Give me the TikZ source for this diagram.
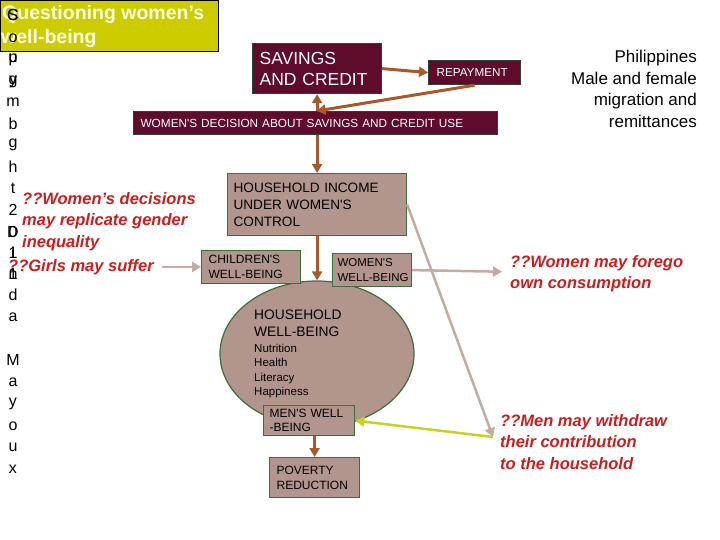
\documentclass[tikz,border=0pt]{standalone}
\usepackage{fontspec}
\setmainfont{Liberation Sans}
\usetikzlibrary{arrows.meta,shapes.geometric,calc}
\definecolor{maroon}{HTML}{5E0B2C}
\definecolor{mbord}{HTML}{2F3F2F}
\definecolor{taupe}{HTML}{B2958C}
\definecolor{gbord}{HTML}{3C6E3C}
\definecolor{brownarr}{HTML}{A8582A}
\definecolor{tarr}{HTML}{C4AAA0}
\definecolor{yel}{HTML}{C8D21E}
\definecolor{redc}{HTML}{C81E1E}
\definecolor{titlefill}{HTML}{CCCC00}
\definecolor{titletext}{HTML}{FFFFE6}
\newcommand\fsz[2]{\fontsize{#1}{#2}\selectfont}
\begin{document}
\begin{tikzpicture}[x=1pt,y=-1pt,
  mbox/.style={draw=mbord, line width=1.2pt, fill=maroon, text=white, anchor=north west, align=left, inner ysep=0pt},
  tbox/.style={draw=gbord, line width=1.2pt, fill=taupe, text=black, anchor=north west, align=left, inner ysep=0pt},
  barrow/.style={draw=brownarr, line width=3pt, -{Triangle[length=9pt,width=10pt]}},
  tarrow/.style={draw=tarr, line width=2.5pt, -{Triangle[length=9pt,width=10pt]}},
  yarrow/.style={draw=yel, line width=2.5pt, -{Triangle[length=9pt,width=10pt]}},
  redtxt/.style={text=redc, font=\fsz{16.5}{21.7}\bfseries\itshape, align=left, anchor=north west, inner sep=0pt},
  letter/.style={font=\fsz{16}{18}, text=black, inner sep=0pt, anchor=center}
]
\useasboundingbox (0,0) rectangle (720,540);

% title
\node[draw=black, line width=0.8pt, fill=titlefill, anchor=north west, minimum width=218, minimum height=51, inner sep=0pt] (title) at (0,0) {};
\node[text=titletext, font=\fsz{19.5}{24.5}\bfseries, align=left, anchor=north west, inner sep=0pt] (titletxt) at (2,5) {Questioning women’s\\\hspace{-1pt}well-being};

% maroon boxes
\node[mbox, minimum width=129, minimum height=50, text width=115, inner xsep=7pt, font=\fsz{17.5}{21}] (sav) at (252,43) {SAVINGS\\AND CREDIT};
\node[mbox, minimum width=92, minimum height=24, text width=76, inner xsep=8pt, font=\fsz{11.7}{14}] (rep) at (428,60) {REPAYMENT};
\node[mbox, minimum width=364, minimum height=23, text width=350, inner xsep=7pt, font=\fsz{11.8}{14}] (wdec) at (133,111) {WOMEN\textquotesingle S DECISION ABOUT SAVINGS AND CREDIT USE};

% taupe boxes
\node[tbox, minimum width=179, minimum height=62, text width=167, inner xsep=6pt, font=\fsz{13.6}{17}] (hinc) at (227,173) {HOUSEHOLD INCOME\\UNDER WOMEN\textquotesingle S\\CONTROL};
\node[ellipse, draw=gbord, line width=1.2pt, fill=taupe, minimum width=194, minimum height=146, inner sep=0pt] (hhwb) at (317,354) {};
\node[tbox, minimum width=99, minimum height=33, text width=85, inner xsep=7pt, font=\fsz{12}{15}] (chi) at (201,250) {CHILDREN\textquotesingle S\\\mbox{WELL-BEING}};
\node[tbox, minimum width=79, minimum height=33, text width=69, inner xsep=5pt, font=\fsz{11.5}{15}] (wwb) at (332,253) {WOMEN\textquotesingle S\\\mbox{WELL-BEING}};
\node[font=\fsz{13.8}{16.7}, align=left, anchor=north west, inner sep=0pt] (hhtxt) at (254,310) {HOUSEHOLD\\\mbox{WELL-BEING}};
\node[font=\fsz{11.5}{14.3}, align=left, anchor=north west, inner sep=0pt] (hhlist) at (254,344) {Nutrition\\Health\\Literacy\\Happiness};
\node[tbox, minimum width=91, minimum height=30, text width=79, inner xsep=6pt, font=\fsz{12}{14}] (men) at (263,405) {MEN\textquotesingle S WELL\\\mbox{-BEING}};
\node[tbox, minimum width=90, minimum height=40, text width=76, inner xsep=7pt, font=\fsz{12}{15}] (pov) at (269,457) {POVERTY\\REDUCTION};

% red texts
\node[redtxt] (rt1) at (22,192) {??Women’s decisions\\may replicate gender\\inequality};
\node[redtxt] (rt2) at (8,259) {??Girls may suffer};
\node[redtxt] (rt3) at (510,255) {??Women may forego\\own consumption};
\node[redtxt] (rt4) at (500,414) {??Men may withdraw\\their contribution\\to the household};

% Philippines
\node[font=\fsz{17}{21.5}, align=right, anchor=north east, inner sep=0pt] (phil) at (697,50) {Philippines\\Male and female\\migration and\\remittances};

\coordinate (mw) at (493,437);

% brown arrows
\draw[barrow] (sav.east) -- (rep.west);
\draw[barrow] (rep.south) -- ($(wdec.north)+(1,0)$);
\draw[barrow] (wdec.north -| sav.south) -- (sav.south);
\draw[barrow] (wdec.south -| hinc.north) -- (hinc.north);
\draw[barrow] (hinc.south) -- (hinc.south |- hhwb.north);
\draw[barrow] (men.south -| pov.north) -- (pov.north);

% taupe arrows
\draw[tarrow] (rt2.east) ++(8,0) coordinate (g0) -- (g0 -| chi.west);
\draw[tarrow] (wwb.east) -- ($(rt3.west)+(-8,-2)$);
\draw[tarrow] (hinc.east) -- (mw);
% yellow arrow
\draw[yarrow] (mw) -- (men.east);

% left vertical letters
\foreach \yy/\txt [count=\i] in {
  15/{\makebox[0pt]{C}\makebox[0pt]{S}},
  38/o,
  60/{\makebox[0pt]{p}\makebox[0pt]{u}},
  82/{\makebox[0pt]{y}\makebox[0pt]{g}},
  102/m, 124/b, 145/g, 167/h, 188/t, 210/2,
  232/{\makebox[0pt]{D}\makebox[0pt]{0}},
  253/{\makebox[0pt]{i}\makebox[0pt]{1}},
  274/{\makebox[0pt]{n}\makebox[0pt]{1}},
  295/d, 317/a, 360/M, 382/a, 404/y, 426/o, 447/u, 469/x}
  \node[letter] (L\i) at (13,\yy) {\txt};
\end{tikzpicture}
\end{document}
